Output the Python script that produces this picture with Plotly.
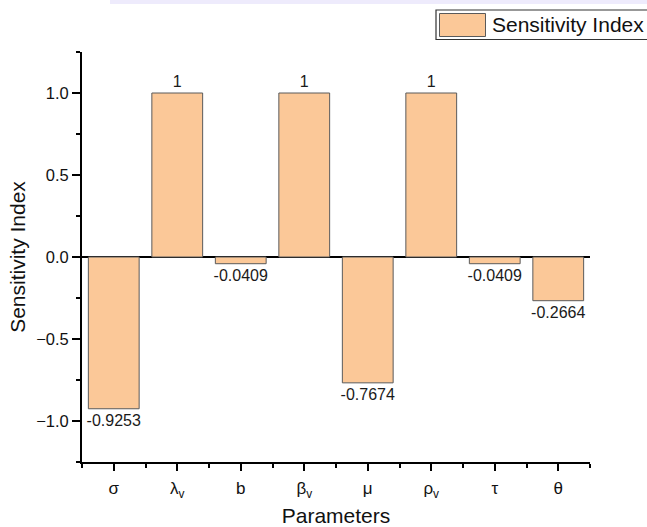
import plotly.graph_objects as go

# Sensitivity indices of the model parameters
params = ["σ", "λ<sub>v</sub>", "b", "β<sub>v</sub>", "μ", "ρ<sub>v</sub>", "τ", "θ"]
sens_index = [-0.9253, 1, -0.0409, 1, -0.7674, 1, -0.0409, -0.2664]
y_ticks = [-1.0, -0.5, 0.0, 0.5, 1.0]

W, H = 647, 527
L, R, T, B = 82, 57, 52, 65
FONT = "Arial, Liberation Sans, sans-serif"
BAR_FILL = "#FBC898"
BAR_LINE = "#5a5a5a"

xpos = list(range(len(params)))
labels = [f"{v:g}" for v in sens_index]

fig = go.Figure()
fig.add_trace(go.Bar(
    x=xpos, y=sens_index, width=0.8,
    marker=dict(color=BAR_FILL, line=dict(color=BAR_LINE, width=1)),
    text=labels, textposition="outside", constraintext="none",
    textfont=dict(family=FONT, size=16, color="#1a1a1a"),
    cliponaxis=False, showlegend=False, name="Sensitivity Index",
))

fig.update_layout(
    width=W, height=H,
    margin=dict(l=L, r=R, t=T, b=B, pad=0, autoexpand=False),
    paper_bgcolor="white", plot_bgcolor="white",
    font=dict(family=FONT, color="#111111"),
    showlegend=False,
    xaxis=dict(
        range=[-0.5, len(params) - 0.5], automargin=False,
        tickmode="array", tickvals=xpos, ticktext=params,
        tickfont=dict(size=17), ticks="outside", ticklen=7, tickwidth=1.5,
        tickcolor="black", ticklabelstandoff=3,
        minor=dict(tickmode="linear", tick0=-0.5, dtick=1, ticks="outside",
                   ticklen=4, tickwidth=1.5, tickcolor="black"),
        showline=True, linecolor="black", linewidth=1.8,
        showgrid=False, zeroline=False,
        title=dict(text="Parameters", font=dict(size=21), standoff=17),
    ),
    yaxis=dict(
        range=[-1.25, 1.25], automargin=False,
        tickmode="array", tickvals=y_ticks,
        ticktext=[f"{v:.1f}".replace("-", "\u2212") for v in y_ticks],
        tickfont=dict(size=16.5), ticks="outside", ticklen=8, tickwidth=1.5,
        tickcolor="black",
        minor=dict(tickmode="linear", tick0=0, dtick=0.25, ticks="outside",
                   ticklen=4, tickwidth=1.5, tickcolor="black"),
        showline=True, linecolor="black", linewidth=1.8,
        showgrid=False,
        zeroline=True, zerolinecolor="black", zerolinewidth=1.5,
        title=dict(text="Sensitivity Index", font=dict(size=21), standoff=5),
    ),
)

# Legend box drawn by hand so the swatch matches the bar style
pw, ph = W - L - R, H - T - B
def px_x(x):
    return (x - L) / pw

def px_y(y):
    return (H - B - y) / ph

fig.add_shape(type="rect", xref="paper", yref="paper",
              x0=px_x(436), x1=px_x(660), y0=px_y(39.5), y1=px_y(10),
              line=dict(color="#333333", width=1.2), fillcolor="white")
fig.add_shape(type="rect", xref="paper", yref="paper",
              x0=px_x(439.5), x1=px_x(485.5), y0=px_y(36.5), y1=px_y(13.5),
              line=dict(color=BAR_LINE, width=1), fillcolor=BAR_FILL)
fig.add_annotation(xref="paper", yref="paper", x=px_x(490), y=px_y(25),
                   xanchor="left", yanchor="middle", showarrow=False,
                   text="Sensitivity Index",
                   font=dict(family=FONT, size=21, color="#111111"))

# faint lavender strip along the top edge
fig.add_shape(type="rect", xref="paper", yref="paper",
              x0=px_x(110), x1=px_x(660), y0=px_y(4), y1=px_y(-2),
              line=dict(width=0), fillcolor="#eeebfc", layer="below")

fig.write_html("out.html")
